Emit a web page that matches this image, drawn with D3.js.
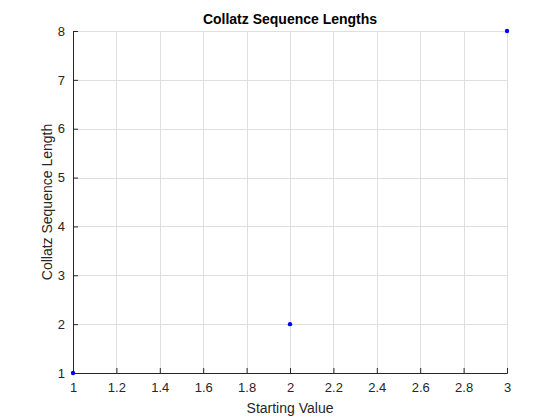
<!DOCTYPE html>
<meta charset="utf-8">
<script src="https://d3js.org/d3.v7.min.js"></script>
<div id="chart"></div>
<script>

var startValues = [1, 2, 3];
var seqLengths = [1, 2, 8];
var xTicks = [1, 1.2, 1.4, 1.6, 1.8, 2, 2.2, 2.4, 2.6, 2.8, 3];
var yTicks = [1, 2, 3, 4, 5, 6, 7, 8];

var width = 560, height = 420;
var margin = {top: 31, right: 53, bottom: 47, left: 73};

var svg = d3.select("#chart").append("svg")
    .attr("width", width)
    .attr("height", height);

var x = d3.scaleLinear().domain([1, 3]).range([margin.left, width - margin.right]);
var y = d3.scaleLinear().domain([1, 8]).range([height - margin.bottom, margin.top]);

// grid
svg.append("g").selectAll("line").data(xTicks).enter().append("line")
    .attr("x1", function(d) { return Math.round(x(d)) + 0.5; })
    .attr("x2", function(d) { return Math.round(x(d)) + 0.5; })
    .attr("y1", margin.top).attr("y2", height - margin.bottom)
    .attr("stroke", "#dfdfdf");
svg.append("g").selectAll("line").data(yTicks).enter().append("line")
    .attr("y1", function(d) { return Math.round(y(d)) + 0.5; })
    .attr("y2", function(d) { return Math.round(y(d)) + 0.5; })
    .attr("x1", margin.left).attr("x2", width - margin.right)
    .attr("stroke", "#dfdfdf");

// axes, ticks inward
var xAxis = svg.append("g")
    .attr("transform", "translate(0," + (height - margin.bottom) + ")")
    .call(d3.axisBottom(x).tickValues(xTicks).tickSize(-5).tickPadding(10)
      .tickFormat(d3.format("~g")));
var yAxis = svg.append("g")
    .attr("transform", "translate(" + margin.left + ",0)")
    .call(d3.axisLeft(y).tickValues(yTicks).tickSize(-5).tickPadding(8)
      .tickFormat(d3.format("d")));

[xAxis, yAxis].forEach(function(a) {
  a.select(".domain").attr("stroke", "#262626");
  a.selectAll(".tick line").attr("stroke", "#262626");
  a.selectAll("text").attr("fill", "#262626")
    .style("font-family", "Liberation Sans, Arial, sans-serif")
    .style("font-size", "13px");
});

// points
svg.append("g").selectAll("circle").data(startValues).enter().append("circle")
    .attr("cx", function(d) { return x(d); })
    .attr("cy", function(d, i) { return y(seqLengths[i]); })
    .attr("r", 2.2)
    .attr("fill", "#0000ff");

// labels
svg.append("text")
    .attr("x", x(2)).attr("y", 24)
    .attr("text-anchor", "middle")
    .style("font-family", "Liberation Sans, Arial, sans-serif")
    .style("font-size", "14px").style("font-weight", "bold")
    .attr("fill", "#000")
    .text("Collatz Sequence Lengths");

svg.append("text")
    .attr("x", x(2)).attr("y", 413)
    .attr("text-anchor", "middle")
    .style("font-family", "Liberation Sans, Arial, sans-serif")
    .style("font-size", "14px")
    .attr("fill", "#262626")
    .text("Starting Value");

svg.append("text")
    .attr("transform", "translate(52," + y(4.5) + ") rotate(-90)")
    .attr("text-anchor", "middle")
    .style("font-family", "Liberation Sans, Arial, sans-serif")
    .style("font-size", "14px")
    .attr("fill", "#262626")
    .text("Collatz Sequence Length");

</script>
<style>
body { margin: 0; }
</style>
